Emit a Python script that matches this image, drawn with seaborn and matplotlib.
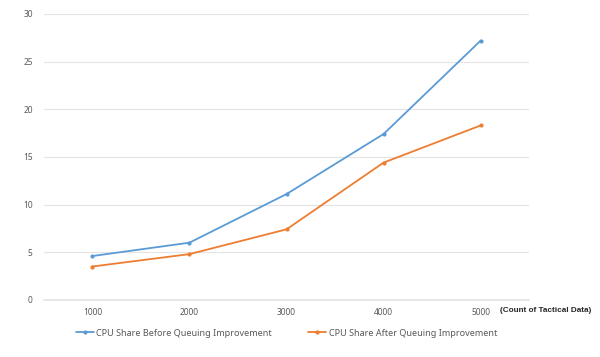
import pandas as pd
import seaborn as sns
import matplotlib.pyplot as plt

# ---------------------------------------------------
# Data
# ---------------------------------------------------

counts = [1000, 2000, 3000, 4000, 5000]
cpu_before = [4.6, 6.0, 11.1, 17.4, 27.2]
cpu_after = [3.5, 4.8, 7.4, 14.4, 18.3]
series_names = ["CPU Share Before Queuing Improvement",
                "CPU Share After Queuing Improvement"]
y_ticks = [0, 5, 10, 15, 20, 25, 30]

df = pd.DataFrame({
    "count": counts * 2,
    "share": cpu_before + cpu_after,
    "series": [series_names[0]] * len(counts) + [series_names[1]] * len(counts),
})

# ---------------------------------------------------
# Plot
# ---------------------------------------------------

sns.set_theme(style="white")
plt.rcParams["font.family"] = ["Noto Sans", "DejaVu Sans"]

fig = plt.figure(figsize=(6, 3.57), dpi=100)
ax = fig.add_axes([0.073, 0.16, 0.809, 0.801])

palette = {series_names[0]: "#5B9BD5", series_names[1]: "#ED7D31"}
sns.lineplot(data=df, x="count", y="share", hue="series", palette=palette,
             marker="o", markersize=3, markeredgewidth=0, linewidth=1.3, ax=ax)

ax.set_xlim(500, 5500)
ax.set_ylim(0, 30)
ax.set_xticks(counts)
ax.set_yticks(y_ticks)
ax.set_xticklabels([str(c) for c in counts], fontsize=6, color="#595959")
ax.set_yticklabels([str(t) for t in y_ticks], fontsize=6, color="#595959")
ax.tick_params(axis="x", length=0, pad=6)
ax.tick_params(axis="y", length=0, pad=8)
ax.grid(axis="y", color="#E4E4E4", linewidth=0.8)
ax.set_axisbelow(True)
for side in ["top", "right", "left"]:
    ax.spines[side].set_visible(False)
ax.spines["bottom"].set_color("#E4E4E4")
ax.set_xlabel("")
ax.set_ylabel("")

ax.text(0.94, -0.025, "(Count of Tactical Data)", transform=ax.transAxes,
        fontsize=5.9, fontweight="bold", family="Liberation Sans",
        color="#262626", va="top", ha="left")

ax.legend(loc="upper center", bbox_to_anchor=(0.5, -0.072), ncol=2,
          frameon=False, fontsize=6.5, handlelength=2.0, handletextpad=0.3,
          columnspacing=4, labelcolor="#595959")

fig.savefig("out.png", dpi=100)
